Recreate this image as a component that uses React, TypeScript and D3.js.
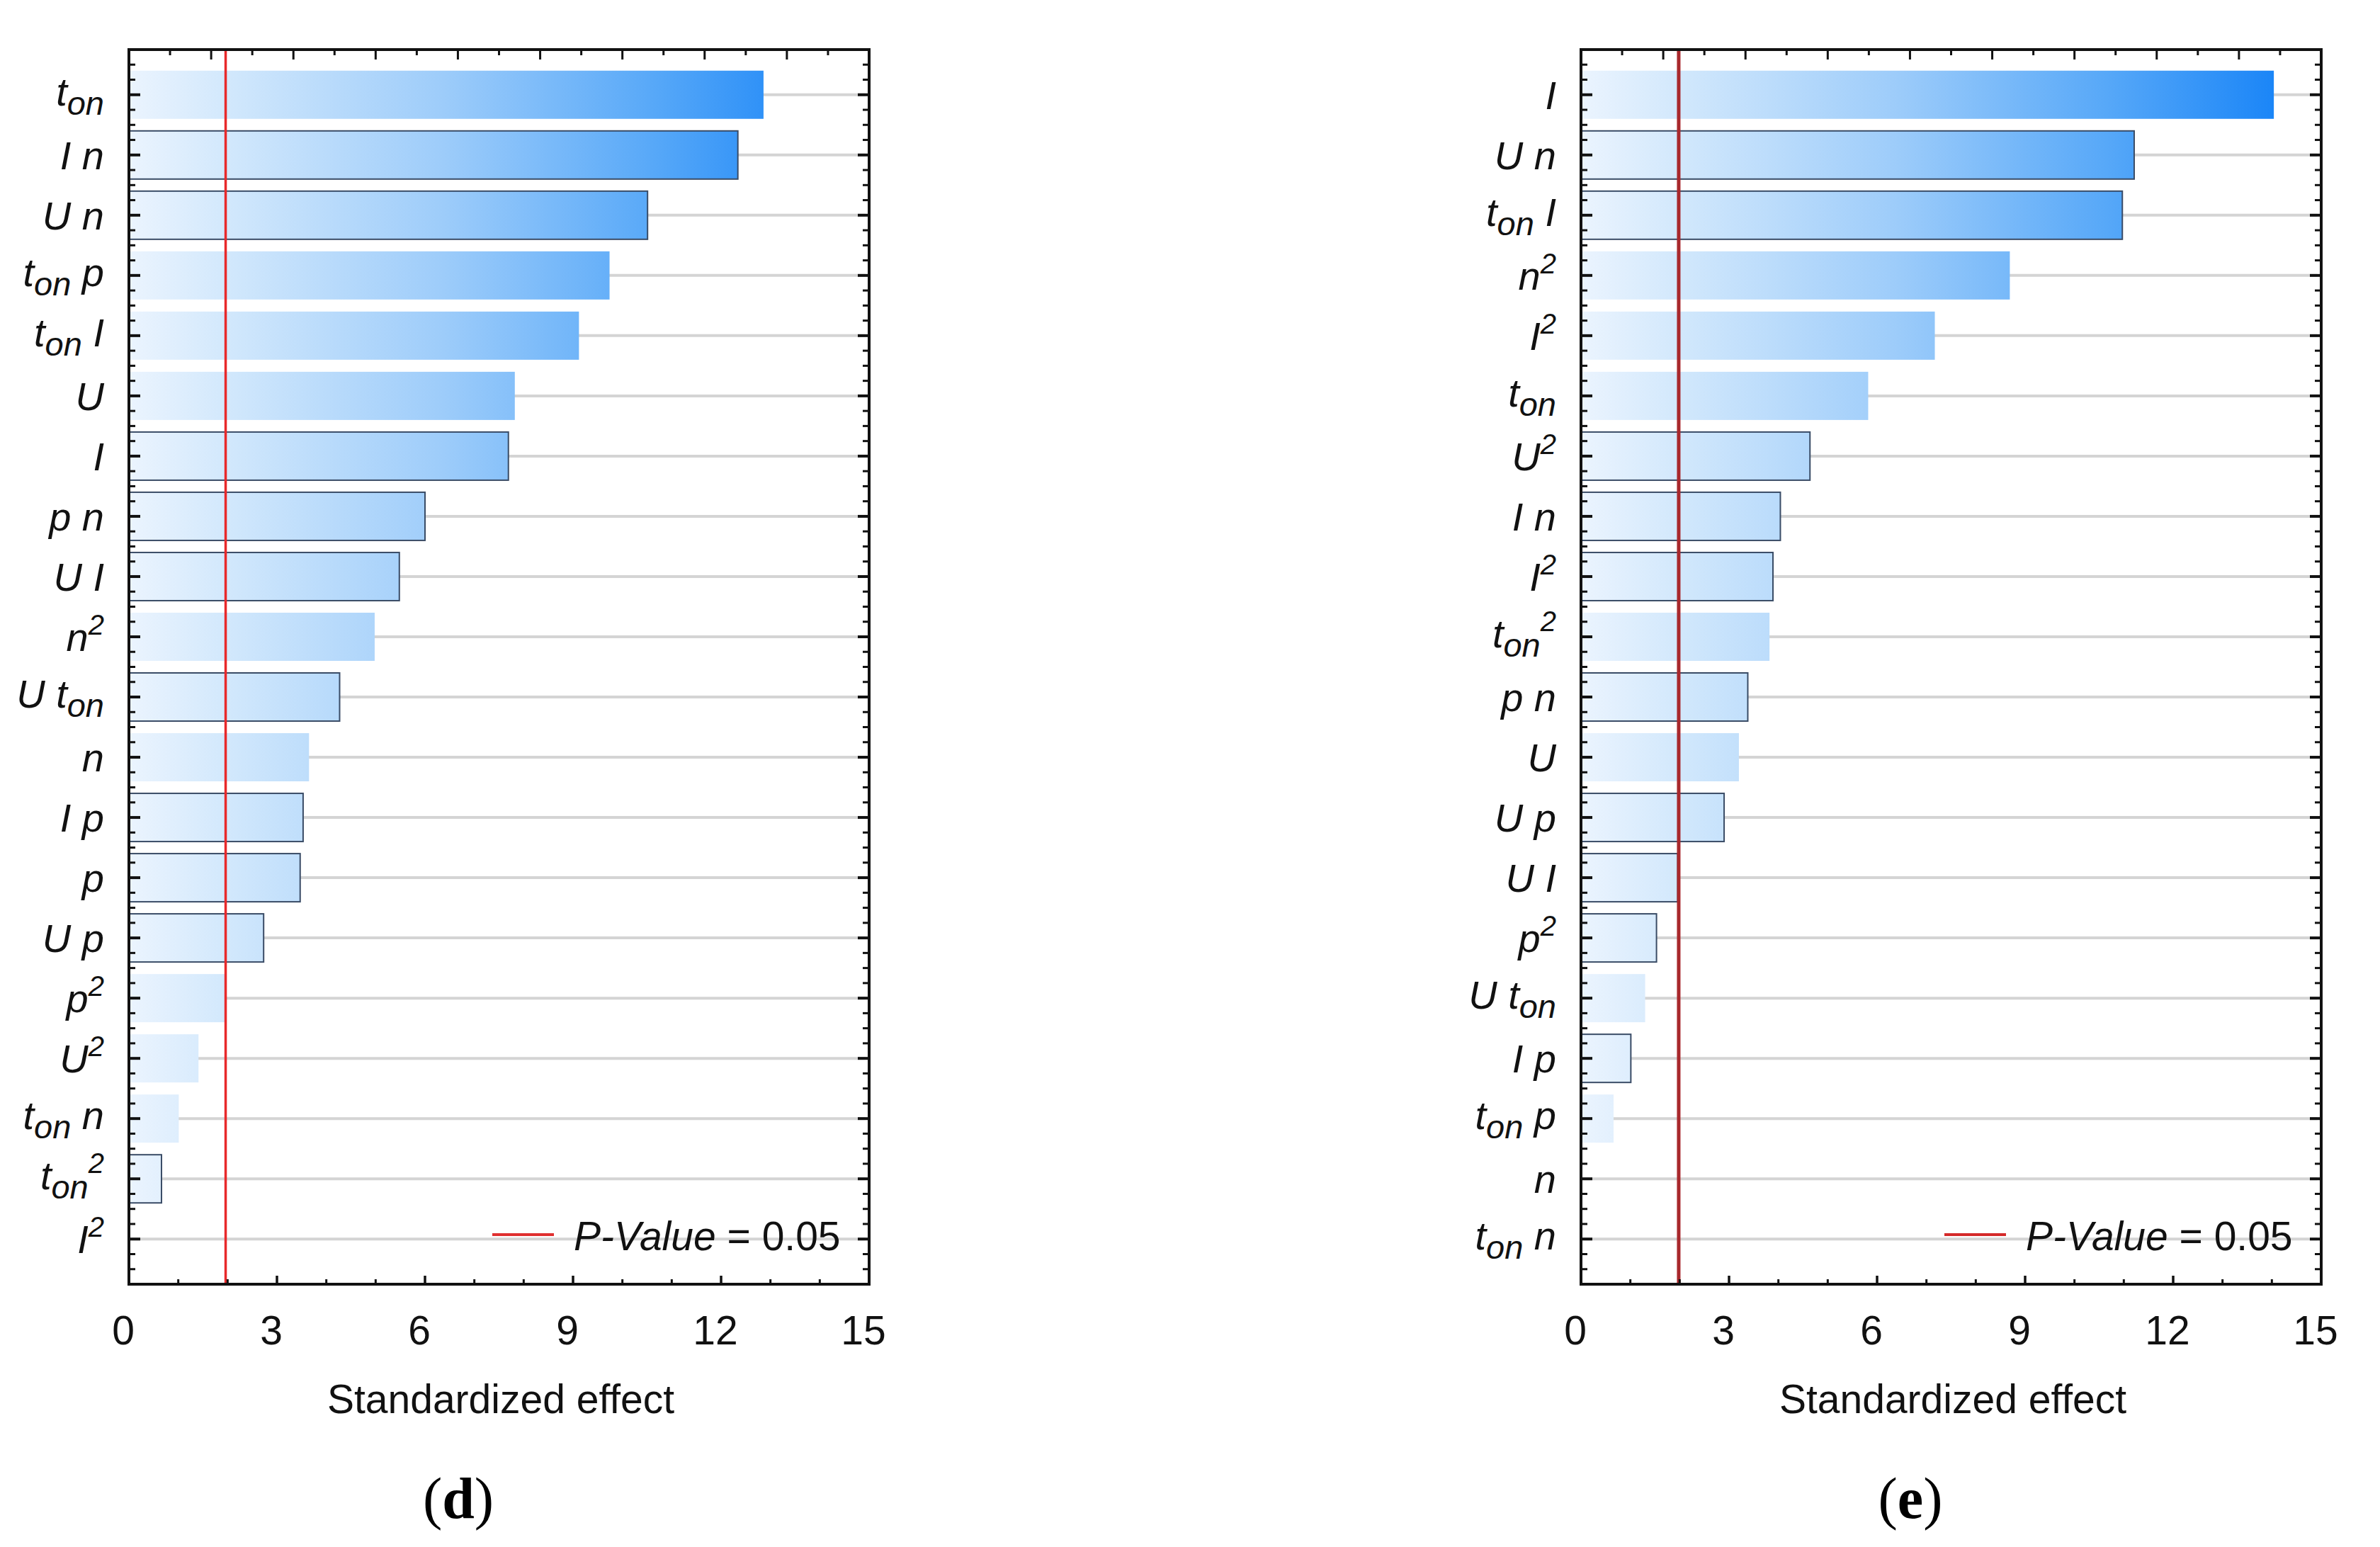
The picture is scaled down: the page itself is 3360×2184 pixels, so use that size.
import React from "react";
import * as d3 from "d3";

const LEFT_LABELS = ["t_on", "I n", "U n", "t_on p", "t_on I", "U", "I", "p n", "U I", "n^2", "U t_on", "n", "I p", "p", "U p", "p^2", "U^2", "t_on n", "t_on^2", "I^2"];
const LEFT_VALUES = [12.86, 12.34, 10.51, 9.74, 9.12, 7.82, 7.69, 6.0, 5.48, 4.98, 4.27, 3.65, 3.53, 3.47, 2.73, 1.94, 1.41, 1.01, 0.66, 0];
const LEFT_OUTLINED = [1, 2, 6, 7, 8, 10, 12, 13, 14, 18];
const LEFT_PVALUE_LINE = 1.96;

const RIGHT_LABELS = ["I", "U n", "t_on I", "n^2", "I^2", "t_on", "U^2", "I n", "I^2", "t_on^2", "p n", "U", "U p", "U I", "p^2", "U t_on", "I p", "t_on p", "n", "t_on n"];
const RIGHT_VALUES = [14.04, 11.21, 10.97, 8.69, 7.17, 5.82, 4.64, 4.04, 3.89, 3.82, 3.38, 3.2, 2.9, 1.96, 1.53, 1.3, 1.01, 0.66, 0, 0];
const RIGHT_OUTLINED = [1, 2, 6, 7, 8, 10, 12, 13, 14, 16];
const RIGHT_PVALUE_LINE = 1.98;

const X_TICKS = [0, 3, 6, 9, 12, 15];
const X_DOMAIN = [0, 15];
const AXIS_TITLE = "Standardized effect";
const LEGEND_LABEL = "P-Value";
const LEGEND_VALUE = " = 0.05";

const SANS = "'Liberation Sans', Arial, Helvetica, sans-serif";
const SERIF = "'Liberation Serif', 'Times New Roman', serif";

type Tok = { base: string; sub?: string; sup?: string };
function parseLabel(s: string): Tok[] {
  return s.split(" ").map((t) => {
    const m = t.match(/^([^_^]+)(?:_([^_^]+))?(?:\^(.+))?$/);
    return { base: m ? m[1] : t, sub: m && m[2] ? m[2] : undefined, sup: m && m[3] ? m[3] : undefined };
  });
}

function CatLabel({ text, x, y }: { text: string; x: number; y: number }) {
  const toks = parseLabel(text);
  const hasSub = toks.some((t) => t.sub);
  const parts: React.ReactNode[] = [];
  let cur = 0;
  toks.forEach((t, i) => {
    parts.push(
      <tspan key={`b${i}`} dy={-cur}>
        {(i > 0 ? " " : "") + t.base}
      </tspan>
    );
    cur = 0;
    if (t.sub) {
      parts.push(
        <tspan key={`s${i}`} fontSize={47} dy={13}>
          {t.sub}
        </tspan>
      );
      cur = 13;
    }
    if (t.sup) {
      const target = -23;
      parts.push(
        <tspan key={`p${i}`} fontSize={40} dy={target - cur}>
          {t.sup}
        </tspan>
      );
      cur = target;
    }
  });
  return (
    <text
      x={x}
      y={y + (hasSub ? 15 : 20)}
      textAnchor="end"
      fontStyle="italic"
      fontFamily={SANS}
      fontSize={56}
      fill="#111"
      style={{ whiteSpace: "pre" }}
    >
      {parts}
    </text>
  );
}

type PanelProps = {
  id: string;
  left: number;
  labels: string[];
  values: number[];
  outlined: number[];
  pLine: number;
  redColor: string;
  redWidth: number;
  legendColor: string;
  letter: string;
};

function Panel({ id, left, labels, values, outlined, pLine, redColor, redWidth, legendColor, letter }: PanelProps) {
  const top = 70;
  const bottom = 1813;
  const width = 1045;
  const right = left + width;
  const x = d3.scaleLinear().domain(X_DOMAIN).range([left, right]);
  const n = labels.length;
  const y = d3.scaleLinear().domain([-0.75, n - 0.25]).range([top, bottom]);
  const pitch = y(1) - y(0);
  const barH = pitch * 0.8;
  const gradId = `grad-${id}`;

  const minorY = d3.range(-0.5, n - 0.25 + 0.001, 0.25).filter((v) => Math.abs(v - Math.round(v)) > 0.01);
  const majorY = d3.range(0, n);
  const xMinor = d3.range(1, 15).filter((v) => v % 3 !== 0);
  const topTicks = d3.range(0, 19).map((k) => ({ px: left + (k * width) / 18, major: k % 2 === 0 }));

  return (
    <g>
      <defs>
        <linearGradient id={gradId} gradientUnits="userSpaceOnUse" x1={x(0)} x2={x(14.2)} y1={0} y2={0}>
          <stop offset="0" stopColor="#ebf4fe" />
          <stop offset="0.14" stopColor="#d2e8fc" />
          <stop offset="0.45" stopColor="#9dccfa" />
          <stop offset="0.75" stopColor="#57a8f8" />
          <stop offset="1" stopColor="#1884f7" />
        </linearGradient>
      </defs>
      {majorY.map((i) => (
        <line key={`g${i}`} x1={left} x2={right - 6} y1={y(i)} y2={y(i)} stroke="#d4d4d4" strokeWidth={4} />
      ))}
      {values.map((v, i) =>
        v > 0 ? (
          <rect
            key={`r${i}`}
            x={x(0)}
            y={y(i) - barH / 2}
            width={x(v) - x(0)}
            height={barH}
            fill={`url(#${gradId})`}
            stroke={outlined.includes(i) ? "#3a4c66" : "none"}
            strokeWidth={2}
          />
        ) : null
      )}
      <line x1={x(pLine)} x2={x(pLine)} y1={top} y2={bottom} stroke={redColor} strokeWidth={redWidth} />
      {majorY.map((i) => (
        <g key={`mt${i}`}>
          <line x1={left} x2={left + 16} y1={y(i)} y2={y(i)} stroke="#111" strokeWidth={4} />
          <line x1={right} x2={right - 16} y1={y(i)} y2={y(i)} stroke="#111" strokeWidth={4} />
        </g>
      ))}
      {minorY.map((v, i) => (
        <g key={`nt${i}`}>
          <line x1={left} x2={left + 9} y1={y(v)} y2={y(v)} stroke="#111" strokeWidth={3} />
          <line x1={right} x2={right - 9} y1={y(v)} y2={y(v)} stroke="#111" strokeWidth={3} />
        </g>
      ))}
      {topTicks.map((t, i) => (
        <line key={`tt${i}`} x1={t.px} x2={t.px} y1={top} y2={top + (t.major ? 14 : 8)} stroke="#111" strokeWidth={3} />
      ))}
      {X_TICKS.map((v) => (
        <line key={`bt${v}`} x1={x(v)} x2={x(v)} y1={bottom} y2={bottom - 12} stroke="#111" strokeWidth={3.5} />
      ))}
      {xMinor.map((v) => (
        <line key={`bm${v}`} x1={x(v)} x2={x(v)} y1={bottom} y2={bottom - 7} stroke="#111" strokeWidth={3} />
      ))}
      <rect x={left} y={top} width={width} height={bottom - top} fill="none" stroke="#111" strokeWidth={4} />
      {labels.map((l, i) => (
        <CatLabel key={`l${i}`} text={l} x={left - 35} y={y(i)} />
      ))}
      {X_TICKS.map((v) => (
        <text key={`xl${v}`} x={x(v) - 8} y={1898} textAnchor="middle" fontFamily={SANS} fontSize={57} fill="#111">
          {v}
        </text>
      ))}
      <text x={left + 525} y={1995} textAnchor="middle" fontFamily={SANS} fontSize={57} fill="#111">
        {AXIS_TITLE}
      </text>
      <line x1={left + 513} x2={left + 600} y1={1743} y2={1743} stroke={legendColor} strokeWidth={4} />
      <text x={left + 628} y={1765} fontFamily={SANS} fontSize={57} fill="#111" style={{ whiteSpace: "pre" }}>
        <tspan fontStyle="italic">{LEGEND_LABEL}</tspan>
        <tspan>{LEGEND_VALUE}</tspan>
      </text>
      <text x={left + 465} y={2143} textAnchor="middle" fontFamily={SERIF} fontSize={82} fill="#000">
        <tspan>(</tspan>
        <tspan fontWeight="bold">{letter}</tspan>
        <tspan>)</tspan>
      </text>
    </g>
  );
}

export default function App() {
  return (
    <svg
      width={3360}
      height={2184}
      viewBox="0 0 3360 2184"
      style={{ position: "absolute", left: 0, top: 0, background: "#fff" }}
    >
      <rect x={0} y={0} width={3360} height={2184} fill="#fff" />
      <Panel
        id="d"
        left={182}
        labels={LEFT_LABELS}
        values={LEFT_VALUES}
        outlined={LEFT_OUTLINED}
        pLine={LEFT_PVALUE_LINE}
        redColor="#e8292b"
        redWidth={3.5}
        legendColor="#e03030"
        letter="d"
      />
      <Panel
        id="e"
        left={2232}
        labels={RIGHT_LABELS}
        values={RIGHT_VALUES}
        outlined={RIGHT_OUTLINED}
        pLine={RIGHT_PVALUE_LINE}
        redColor="#a8282c"
        redWidth={5}
        legendColor="#d42a2a"
        letter="e"
      />
    </svg>
  );
}
